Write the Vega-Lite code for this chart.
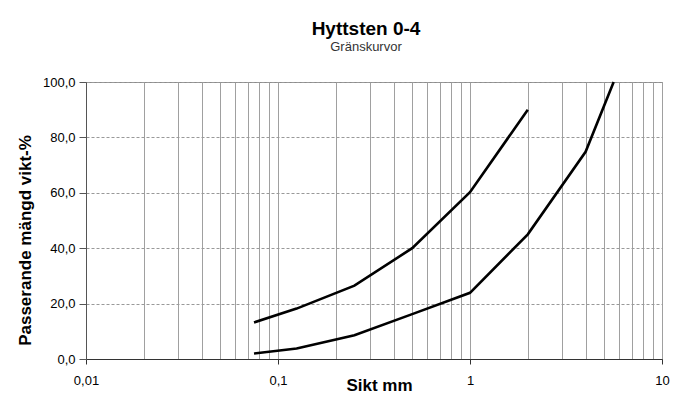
{
  "$schema": "https://vega.github.io/schema/vega-lite/v6.json",
  "autosize": {"type": "none"},
  "width": 576,
  "height": 277,
  "padding": {"left": 86, "top": 82, "right": 12, "bottom": 60},
  "background": "white",
  "title": {
    "text": "Hyttsten 0-4",
    "subtitle": "Gränskurvor",
    "font": "Liberation Sans",
    "fontSize": 19,
    "fontWeight": "bold",
    "color": "#000",
    "subtitleFont": "Liberation Sans",
    "subtitleFontSize": 13,
    "subtitleColor": "#333",
    "subtitlePadding": 2,
    "anchor": "middle",
    "frame": "group",
    "dx": -8,
    "offset": 22
  },
  "config": {
    "view": {"stroke": "#8a8a8a", "strokeWidth": 1},
    "axis": {"labelFont": "Liberation Sans", "titleFont": "Liberation Sans", "labelColor": "#000", "titleColor": "#000"}
  },
  "data": {
    "values": [
      {"kurva": "övre", "sikt": 0.075, "passerande": 13.2},
      {"kurva": "övre", "sikt": 0.125, "passerande": 18.2},
      {"kurva": "övre", "sikt": 0.25, "passerande": 26.5},
      {"kurva": "övre", "sikt": 0.5, "passerande": 40},
      {"kurva": "övre", "sikt": 1, "passerande": 60.2},
      {"kurva": "övre", "sikt": 2, "passerande": 90},
      {"kurva": "undre", "sikt": 0.075, "passerande": 2},
      {"kurva": "undre", "sikt": 0.125, "passerande": 3.8},
      {"kurva": "undre", "sikt": 0.25, "passerande": 8.6},
      {"kurva": "undre", "sikt": 0.5, "passerande": 16.2},
      {"kurva": "undre", "sikt": 1, "passerande": 23.9},
      {"kurva": "undre", "sikt": 2, "passerande": 45},
      {"kurva": "undre", "sikt": 4, "passerande": 74.8},
      {"kurva": "undre", "sikt": 5.6, "passerande": 100}
    ]
  },
  "mark": {"type": "line", "color": "#000", "strokeWidth": 2.6, "strokeJoin": "miter"},
  "encoding": {
    "detail": {"field": "kurva", "type": "nominal"},
    "x": {
      "field": "sikt",
      "type": "quantitative",
      "scale": {"type": "log", "domain": [0.01, 10], "nice": false},
      "axis": {
        "values": [0.01, 0.02, 0.03, 0.04, 0.05, 0.06, 0.07, 0.08, 0.09, 0.1, 0.2, 0.3, 0.4, 0.5, 0.6, 0.7, 0.8, 0.9, 1, 2, 3, 4, 5, 6, 7, 8, 9, 10],
        "grid": true,
        "gridColor": "#a0a0a0",
        "gridWidth": 1,
        "ticks": true,
        "tickSize": 5,
        "tickColor": "#333",
        "tickOpacity": {"condition": {"test": "datum.value == 0.01 || datum.value == 0.1 || datum.value == 1 || datum.value == 10", "value": 1}, "value": 0},
        "labelExpr": "datum.value == 0.01 ? '0,01' : datum.value == 0.1 ? '0,1' : datum.value == 1 ? '1' : datum.value == 10 ? '10' : ''",
        "labelFontSize": 13,
        "labelPadding": 10,
        "labelFlush": false,
        "labelOverlap": false,
        "domainColor": "#333",
        "title": "Sikt mm",
        "titleFontSize": 17,
        "titleFontWeight": "bold",
        "titleX": 293,
        "titleY": 31,
        "titleBaseline": "alphabetic",
        "titleAlign": "center"
      }
    },
    "y": {
      "field": "passerande",
      "type": "quantitative",
      "scale": {"domain": [0, 100], "nice": false},
      "axis": {
        "values": [0, 20, 40, 60, 80, 100],
        "labelExpr": "replace(format(datum.value, '.1f'), '.', ',')",
        "grid": true,
        "gridDash": [3, 2],
        "gridColor": "#999",
        "tickSize": 7,
        "tickColor": "#555",
        "labelPadding": 4,
        "labelFontSize": 13,
        "domainColor": "#555",
        "title": "Passerande mängd vikt-%",
        "titleFontSize": 17,
        "titleFontWeight": "bold",
        "titleAngle": 270,
        "titleX": -56,
        "titleY": 158,
        "titleBaseline": "alphabetic",
        "titleAlign": "center"
      }
    }
  }
}
